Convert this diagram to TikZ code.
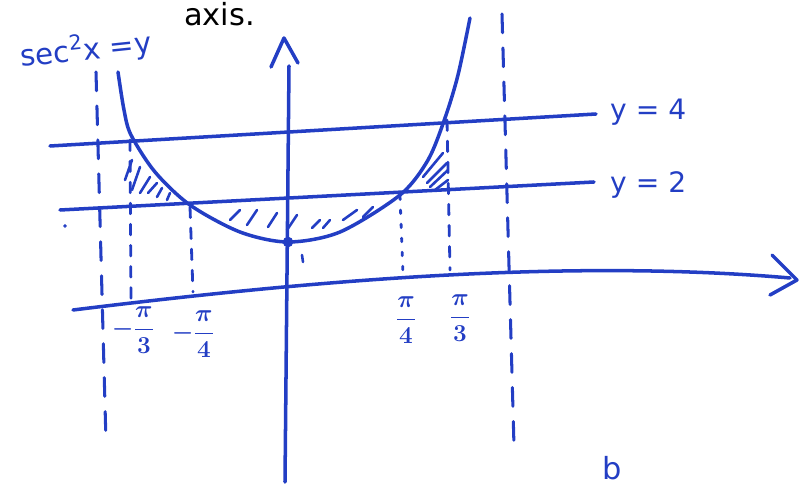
\documentclass[tikz,border=0pt]{standalone}
\usepackage{fontspec}
\setmainfont{DejaVu Sans}
\usepackage{amsmath}
\usetikzlibrary{arrows.meta}
\definecolor{inkblue}{RGB}{35,62,196}

\begin{document}
\begin{tikzpicture}[x=0.03cm,y=-0.03cm,
	ink/.style={draw=inkblue,line width=3pt,line cap=round,line join=round},
	asym/.style={ink,line width=2.6pt,dash pattern=on 16pt off 13pt},
	drop/.style={ink,line width=2.4pt,dash pattern=on 9pt off 9pt},
	dotdrop/.style={ink,line width=2.4pt,dash pattern=on 3pt off 9pt},
	hatch/.style={ink,line width=2.2pt},
	lab/.style={text=inkblue,inner sep=0pt},
	frac/.style={lab,font=\fontsize{22}{26}\selectfont\boldmath}]
	\useasboundingbox (0,0) rectangle (799,487);
			
			\node [anchor=base west,inner sep=0pt,font=\fontsize{26}{30}\selectfont] at (184,26) {axis.};
			\node [lab,rotate=6,font=\fontsize{25}{30}\selectfont] at (86,50) {sec\textsuperscript{2}x =y};
			
			\draw [asym] (96,72) -- (106,442);
			\draw [asym] (502,14) -- (514,446);
			
			\draw [ink] (50,146) -- (596,114);
			\node [lab,anchor=west,font=\fontsize{24}{28}\selectfont] at (610,112) {y = 4};
			\draw [ink] (60,210) -- (594,182);
			\node [lab,anchor=west,font=\fontsize{24}{28}\selectfont] at (610,185) {y = 2};
			
			\draw [ink] (73,310) .. controls (300,282) and (560,258) .. (790,278);
			\draw [ink] (772,255) -- (797,280) -- (770,295);
			
			\draw [ink] (285,482) -- (289,66);
			\draw [ink] (271,67) -- (284,38) -- (298,63);
			
			\draw [ink] plot [smooth] coordinates {(118,72) (124,110) (131,135) (155,172) (190,205) (240,232) (288,242) (340,232) (400,195) (428,160) (445,118) (458,75) (470,18)};
			\draw [fill=inkblue,draw=inkblue] (288,242) circle[radius=5];
			
			\coordinate (m3) at (130,140);
			\coordinate (m4) at (190,207);
			\coordinate (p4) at (400,196);
			\coordinate (p3) at (447,120);
			\draw [drop] (m3) -- (131,302);
			\draw [drop] (m4) -- (193,292);
			\draw [dotdrop] (p4) -- (403,274);
			\draw [drop] (p3) -- (450,270);
			
			\node [frac] at (133,330) {$-\dfrac{\pi}{3}$};
			\node [frac] at (193,334) {$-\dfrac{\pi}{4}$};
			\node [frac] at (406,320) {$\dfrac{\pi}{4}$};
			\node [frac] at (460,318) {$\dfrac{\pi}{3}$};
			
			\foreach \xa/\ya/\xb/\yb in {125/180/132/160, 132/190/140/167, 140/193/150/177, 148/193/157/183, 157/197/162/188, 167/200/170/193,
				230/220/240/210, 247/225/257/210, 268/227/277/213, 287/230/297/215, 312/228/320/220, 323/228/330/220, 343/220/357/210, 363/217/373/207,
				427/183/447/163, 430/187/448/170, 435/190/448/180, 423/177/443/153}
				\draw [hatch] (\xa,\ya) -- (\xb,\yb);
			
			\draw [hatch] (302,255) -- (303,262);
			\draw [fill=inkblue,draw=inkblue] (65,226) circle[radius=1.5];
			
			\node [lab,font=\fontsize{26}{30}\selectfont] at (612,468) {b};
			\end{tikzpicture}
\end{document}
